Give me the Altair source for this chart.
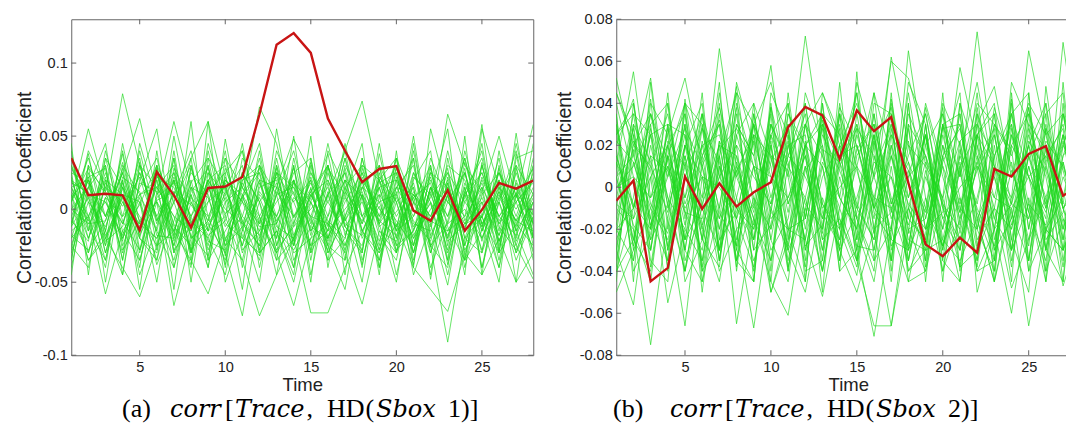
import altair as alt
import pandas as pd

# ---------------- data (green traces in thousandths) ----------------
time_ticks = [5, 10, 15, 20, 25]
yticks_a = [-0.1, -0.05, 0, 0.05, 0.1]
yticks_b = [-0.08, -0.06, -0.04, -0.02, 0, 0.02, 0.04, 0.06, 0.08]

red_a = [0.035, 0.0095, 0.0105, 0.0095, -0.0145, 0.0255, 0.0095, -0.0125, 0.0145, 0.0155,
         0.022, 0.065, 0.1125, 0.1205, 0.107, 0.062, 0.040, 0.0185, 0.0275, 0.0295,
         -0.001, -0.008, 0.013, -0.0148, -0.0005, 0.018, 0.014, 0.0195]
red_b = [-0.0064, 0.0032, -0.0448, -0.0384, 0.0051, -0.0103, 0.0019, -0.0092, -0.0024, 0.0024,
         0.0286, 0.0382, 0.0342, 0.0135, 0.0366, 0.0267, 0.0334, 0.002, -0.0272, -0.0328,
         -0.024, -0.0312, 0.0087, 0.0051, 0.0159, 0.0196, -0.004, 0.001]

green_a = [
    [12,-8,25,-15,3,30,-22,8,-5,18,-30,5,22,-12,0,15,-25,10,-8,28,-14,4,-35,12,-6,20,-10,15],
    [-20,15,-5,32,-18,6,12,-28,20,-3,8,-15,30,-6,14,-22,5,25,-12,-2,18,-26,9,-15,30,-8,11,-4],
    [30,5,-12,20,-35,10,25,-8,-20,12,40,-5,18,-25,8,30,-10,-18,22,5,-30,15,-5,25,-20,8,-12,22],
    [-5,-30,18,2,22,-15,-40,15,8,-25,10,28,-8,12,-30,-5,20,8,-22,15,10,-12,28,-30,5,-18,25,-10],
    [8,22,-25,45,-10,-20,5,30,-15,22,-8,-35,15,5,20,-12,35,-20,2,-30,25,-8,-15,8,40,-22,5,18],
    [-25,10,5,-18,15,35,-12,-25,40,-10,-20,12,-5,28,-15,10,-28,15,30,-15,-5,22,-20,32,-10,12,-30,5],
    [15,-15,35,-8,-28,8,18,-10,5,35,-15,20,-30,-10,32,-20,8,-8,15,-25,40,-18,10,-5,15,-35,20,-15],
    [-12,38,-20,10,5,-35,28,5,-18,-8,25,-28,10,40,-8,-28,15,30,-10,8,-20,12,-28,18,-12,25,-5,30],
    [22,-20,8,-30,30,15,-5,-38,12,25,-40,18,-12,-20,25,5,-15,-30,38,-12,8,-30,18,-25,22,-5,-18,8],
    [-30,5,-35,15,-12,25,-30,20,-28,5,15,-10,28,-35,-12,20,-8,12,-25,35,-18,5,-45,10,-28,8,30,-25],
    [5,28,12,-22,40,-8,10,-15,30,-20,-5,35,-25,8,-5,-35,28,-15,10,-8,-25,35,5,-12,8,-22,12,-30],
    [35,-10,-8,28,-20,-30,35,-20,-8,40,-28,-15,5,20,-25,12,-30,22,-5,15,30,-25,-10,28,-40,15,-8,10],
    [-8,-22,40,-5,10,20,-18,35,-35,-15,5,-22,35,-18,10,-15,45,-5,-30,22,-12,8,25,-20,12,-30,38,-20],
    [18,12,-18,8,-45,-12,22,-5,25,-25,-12,8,-20,30,-35,25,-12,-25,20,-5,15,-40,-8,35,-15,28,-22,5],
    [-15,-5,22,-35,18,12,-25,28,-10,10,30,-40,12,-5,18,-8,-20,35,-15,-22,8,18,-30,5,25,-10,15,-35],
    [25,18,-30,15,-5,-25,5,-30,18,-32,20,25,-35,-20,5,38,-18,10,-28,12,-30,25,15,-28,-5,35,-25,12],
    [-35,30,10,-10,25,-5,-35,12,28,-5,-35,15,20,-30,-20,10,25,-35,8,30,-10,-15,40,-8,18,-18,8,28],
    [10,-35,-15,38,-28,22,15,-18,-32,20,10,-12,-10,25,35,-30,-5,20,-18,-35,22,10,-20,15,-30,5,-35,-5],
    [0,15,30,-20,8,-38,-8,25,10,-38,25,5,-28,-12,12,-25,15,-10,30,5,-38,28,-12,-35,32,-28,18,-18],
    [-18,-28,-8,25,-15,15,30,-35,35,15,-18,-32,25,15,-28,18,-35,28,-8,-18,12,-5,30,20,-15,10,-8,25],
    [28,8,-22,-12,32,-18,-20,10,-22,-28,35,20,-15,-28,-5,30,-12,-28,18,25,-25,15,-22,-10,5,-40,28,-12],
    [-10,40,15,5,-20,28,-28,-12,20,30,-8,-25,40,10,-12,-20,30,8,-40,10,35,-30,5,25,-22,18,-15,35],
    [20,-12,-35,22,12,-28,40,-28,-12,8,-25,30,-5,-25,22,-10,-25,15,5,-28,-15,30,-38,12,35,-12,-28,0],
    [-28,22,28,-28,-8,5,-15,18,35,-22,18,-8,-30,35,-18,28,10,-38,15,20,-8,-22,18,-40,10,25,5,-28],
    [5,55,12,79,30,-8,20,-5,15,-12,8,25,-10,18,5,-20,12,-5,20,-15,10,-8,25,5,-12,15,0,20],
    [-10,20,-5,25,62,10,60,15,-8,20,5,70,45,-5,12,30,-8,20,0,-12,25,5,-18,10,25,-5,15,-10],
    [15,-5,20,10,-15,30,5,35,60,12,-10,20,15,48,25,-5,40,74,20,35,5,-10,65,30,12,50,8,58],
    [-20,-5,-58,-15,-35,5,-66,-20,-10,-30,-73,-5,-30,-66,-20,-10,-30,-65,-15,-30,5,-25,-91,-20,-5,-30,-10,-25],
    [5,-35,-20,-40,-60,-25,-15,-35,-58,-20,-35,-73,-45,-20,-71,-71,-40,-15,-30,-10,-40,-55,-70,-30,-45,-20,-50,-30],
    [-5,20,-30,10,-15,30,-40,5,-20,-45,10,-30,-15,-50,5,-25,-55,10,-35,20,-45,-10,-52,15,-40,5,-25,-48],
    [40,-15,30,-45,20,55,-20,60,-35,48,-12,-50,30,-25,50,-40,20,-30,45,-20,35,-48,22,-15,58,-30,52,-20],
    [-45,30,-50,20,-55,25,-10,-40,60,-30,15,45,-20,50,-30,30,-45,35,-10,-50,20,40,-35,50,-45,30,-20,45],
    [10,-20,15,-10,25,-5,20,-30,5,15,-25,10,-5,20,-15,5,25,-10,15,-20,10,-5,20,-25,15,-10,5,20],
    [-12,8,-25,18,-8,-20,12,3,-15,28,-5,-18,15,-22,10,20,-12,5,-28,15,-5,25,-10,0,-20,12,-8,-15],
    [25,-30,8,-5,35,-25,50,-10,20,-40,25,5,-45,20,-10,45,-5,-50,25,-15,50,-20,10,-35,30,-15,45,-5],
    [-40,15,45,-25,5,-50,20,-30,45,5,-55,30,10,-40,35,-20,10,45,-40,30,-30,10,55,-35,-15,20,-50,30],
    [5,35,-5,25,-30,20,-55,30,-15,-5,45,-20,25,5,-25,-15,35,-5,10,-45,5,30,-25,40,-5,-40,10,-20],
    [30,-5,-40,30,10,-15,35,-50,25,10,-20,-30,55,-10,20,-35,-20,25,-5,35,-35,15,-15,-5,45,-25,30,10],
    [-25,-40,20,-35,45,5,-25,10,-40,35,15,-5,-35,30,-45,10,40,-15,-35,5,15,-45,35,-20,-30,40,-15,-45],
    [15,20,-15,40,-20,-35,10,40,-5,-35,20,30,-10,-40,15,-30,-5,30,20,-25,-15,20,-5,35,-10,5,40,-10],
    [0,-10,5,-20,10,15,-5,-15,20,0,-10,-25,10,15,-5,-10,20,-15,5,10,-20,0,15,-10,-5,25,-15,5],
    [20,10,-20,5,-10,25,-15,15,-25,20,5,-10,25,-20,10,-15,0,15,-10,25,-25,15,5,-10,20,-5,10,-20],
    [-35,25,-15,-45,30,-10,25,-20,30,-50,-15,40,-25,20,-50,40,15,-40,30,-30,45,-25,-40,25,-10,-50,35,40],
    [45,-45,35,15,-40,40,-30,-5,-40,25,40,-30,-15,-45,30,-25,-35,20,-45,40,-40,55,10,-45,55,15,-30,-5],
]

green_b = [
    [18,-25,10,35,-12,-30,22,5,-18,30,-8,15,-35,20,8,-22,40,-10,-28,12,30,-15,5,-20,25,-8,35,-12],
    [-30,12,-18,5,28,10,-35,25,-5,-20,15,40,-12,-28,18,30,-8,12,-35,20,-12,45,-25,8,-15,30,-20,10],
    [25,40,-8,-22,15,-40,10,-15,30,5,-28,20,10,-35,28,-12,-25,35,15,-8,-30,12,28,-35,10,-22,15,25],
    [-8,-15,35,12,-30,22,-10,38,-25,12,30,-20,25,8,-15,-35,20,-5,25,-30,15,-10,-28,20,35,12,-30,-5],
    [40,5,-25,28,-8,15,30,-30,10,-35,20,-8,-20,35,-25,12,5,-30,-10,38,-18,25,10,-12,-35,28,8,-22],
    [-22,30,12,-35,42,-18,5,20,-40,25,-12,30,15,-18,-5,25,-35,28,-20,-12,35,-28,15,30,-8,-18,25,12],
    [10,-35,28,-5,-20,35,-25,-12,22,-8,40,-30,5,20,-35,8,30,-22,38,5,-25,10,-40,25,-12,40,-10,-30],
    [-35,18,-30,22,10,-25,40,-20,-8,38,-25,10,-30,12,30,-20,-12,45,-5,-28,8,-35,30,-8,20,-30,15,38],
    [30,-10,15,-28,20,5,-15,35,-30,-18,25,-35,32,-5,-20,35,-28,-10,25,-20,40,15,-15,-30,28,5,-38,20],
    [-15,25,-38,15,-25,28,12,-35,30,10,-40,22,-15,35,10,-30,15,-25,-30,25,-10,-20,38,10,-25,15,28,-35],
    [5,-28,20,-15,35,-10,-30,15,-12,30,12,-25,40,-20,25,-5,-35,20,10,-35,22,30,-20,-8,38,-25,-12,25],
    [22,12,-15,40,-30,20,25,-5,-35,-12,35,15,-30,28,-30,20,38,-15,-25,30,-5,-35,15,35,-20,22,10,-18],
    [-25,-5,42,-30,12,-35,18,28,10,-30,-15,30,-8,-25,35,-10,-20,30,-38,15,28,-12,-35,20,5,-30,35,-8],
    [35,-30,-10,20,-18,30,-12,-28,40,15,-30,-10,28,-35,15,30,-5,-28,20,-15,-30,35,10,-38,22,8,-25,30],
    [-10,35,25,-8,-40,12,32,-10,-25,38,5,-38,18,12,-28,-30,25,8,-12,35,-22,15,-30,28,-12,-35,20,5],
    [12,-18,-30,30,25,-25,-38,30,15,-25,20,25,-40,10,28,15,-25,-30,30,-25,12,-30,25,-15,30,18,-15,-28],
    [-38,22,8,-38,5,28,-20,10,-20,22,-35,8,20,-30,-12,35,-8,22,-20,10,-38,25,-5,30,-35,12,30,-12],
    [28,-40,-22,15,-25,-8,15,-38,35,-5,28,-28,-18,38,20,-15,35,-35,8,-30,18,-8,35,-25,15,-20,-5,35],
    [0,10,30,-40,20,40,-35,12,-15,-35,10,35,-25,-15,-38,22,-12,15,35,-8,-20,38,-15,12,-28,35,-30,10],
    [-20,-35,15,8,-12,-15,20,-25,25,15,-20,-15,35,25,-8,-25,28,-20,-15,28,30,-25,-10,-20,15,-10,25,-25],
    [52,15,52,-10,20,-5,66,10,-15,25,5,72,15,-10,30,5,-20,65,10,-5,57,20,-10,35,5,-15,69,10],
    [10,55,-5,25,52,10,-20,30,15,58,-8,20,35,-5,45,-10,62,20,-15,30,5,74,10,-5,65,25,-8,40],
    [-30,-56,5,-55,-20,-35,10,-65,-15,-45,-61,-10,-40,5,-30,-71,-20,-45,-5,-40,10,-40,-20,-60,-5,-40,-15,-45],
    [-10,-20,-75,-15,-66,5,-40,-20,-67,-10,-30,-50,-5,-30,-50,-20,-66,-10,-30,-25,-35,-15,-45,-10,-66,-20,-30,-10],
    [5,-25,-40,10,-30,-45,15,-35,-5,-50,-20,-25,-52,-10,-35,-66,-66,-20,-40,-5,-38,-30,-10,-48,-25,-5,-47,-20],
    [45,20,35,5,40,15,38,5,30,50,15,30,45,20,40,5,60,52,20,35,5,40,30,15,40,25,35,10],
    [-40,-10,25,-30,15,-20,-45,8,-25,20,-38,-5,30,-20,-42,15,-10,-35,25,-28,-5,-38,20,-30,-8,-45,12,-22],
    [20,42,-20,30,-5,35,5,48,-10,25,40,-15,30,12,-10,45,15,-15,40,10,-12,30,48,5,38,-10,20,45],
    [-5,28,-25,-8,30,-38,22,-28,35,-15,-5,20,-22,40,-15,5,25,-40,-22,30,-30,20,-35,42,-20,28,-35,15],
    [15,-15,5,20,-25,15,-30,20,5,-8,22,-30,10,-25,20,-10,15,-8,-20,15,-15,8,25,-18,10,-20,12,-25],
    [-45,40,-20,45,-35,-10,50,-40,25,-45,35,20,-50,35,-15,-40,45,-30,30,-45,40,-15,-45,45,-35,20,-45,55],
    [35,-45,50,-20,30,-50,15,45,-45,40,-20,-45,40,-30,50,20,-45,40,-35,45,-40,30,15,-45,45,-40,50,-30],
    [12,-8,-20,15,-5,20,-15,8,25,-12,-20,10,-25,15,20,-10,5,-18,12,-5,22,-20,10,-8,-15,18,-10,5],
    [-18,20,10,-12,25,-25,5,-10,-20,15,8,-25,12,-5,-20,25,-15,8,-25,20,-8,12,-20,25,5,-12,22,-18],
    [45,25,-35,-45,40,30,-30,50,20,-50,-25,45,20,-40,55,-35,-20,50,30,-35,-45,25,40,-25,-50,48,-10,-40],
    [-50,-30,40,25,-45,-25,35,-35,-45,45,25,-40,-35,50,-25,40,35,-45,-40,15,45,-50,-20,35,45,-30,-45,25],
    [5,15,-10,-25,10,35,-30,-5,30,-20,15,5,-15,20,-35,-5,30,12,-10,-28,10,25,-30,-15,20,-5,25,-15],
    [-20,-10,25,30,-40,-5,20,15,-30,35,-40,30,-8,-20,10,45,-30,5,35,-10,-25,-5,30,18,-40,10,-20,30],
    [30,-20,-45,20,35,-40,-25,40,10,-10,30,-45,45,25,-20,-45,10,-40,-30,40,20,-40,-35,50,30,-45,40,-40],
    [0,5,-5,10,-10,5,0,-15,10,5,-5,15,-10,0,10,-5,-10,5,15,-15,0,10,-5,-10,5,15,-10,0],
    [25,35,-15,-35,20,-20,45,-15,-38,20,-30,40,-20,30,-10,-25,42,-5,25,-10,-45,25,35,-30,15,35,45,-35],
    [-40,-25,30,40,-15,45,-35,25,40,-40,45,-15,35,-40,-30,25,-35,40,-45,30,35,-20,-40,40,-40,-20,-30,45],
    [15,-10,35,-5,-40,10,30,-30,-45,30,10,-5,-40,15,45,-20,20,-35,5,-20,15,50,5,-30,35,-30,5,-15],
    [-30,30,-30,15,40,-45,-10,45,30,-25,-45,20,30,-15,-35,30,-40,30,15,-40,-15,35,-45,-5,20,40,-25,20],
]

caption_a = ["(a)", "corr", "[", "Trace", ",", "HD", "(", "Sbox", "1)]"]
caption_b = ["(b)", "corr", "[", "Trace", ",", "HD", "(", "Sbox", "2)]"]

# ---------------- layout / style constants ----------------
caption_italic = [False, True, False, True, False, False, False, True, False]
caption_x_a = [50.75, 98.75, 153.75, 163.75, 235.25, 255.75, 294.25, 304.75, 376.75]
caption_x_b = [-3.25, 53.75, 108.75, 118.75, 190.25, 210.75, 249.25, 259.75, 331.75]

GREEN = "#1fd81f"
RED = "#c81414"
FRAME = "#666666"
TXT = "#222222"
SANS = "Liberation Sans"
H = 336
CAP_Y = 398


def long_df(rows):
    recs = []
    for i, row in enumerate(rows):
        for j, v in enumerate(row):
            recs.append({"t": j + 1, "v": v / 1000.0, "s": i})
    return pd.DataFrame(recs)


def panel(green_rows, red, ydomain, yticks, W, title_x, caption, caption_x):
    xs = alt.Scale(domain=[1, 28], nice=False, zero=False)
    ys = alt.Scale(domain=ydomain, nice=False, zero=False)
    xaxis = alt.Axis(values=time_ticks, title="Time", grid=False, ticks=False, tickSize=0,
                     domain=False, labelPadding=5, labelFont=SANS, labelFontSize=14.5,
                     labelColor=TXT, labelFlush=False, titleFont=SANS, titleFontSize=18.5,
                     titleFontWeight="normal", titleColor=TXT, titlePadding=2)
    yaxis = alt.Axis(values=yticks, title="Correlation Coefficient",
                     labelExpr="toString(datum.value)", grid=False, ticks=False, tickSize=0,
                     domain=False, labelPadding=4, labelFont=SANS, labelFontSize=14.5,
                     labelColor=TXT, labelFlush=False, titleFont=SANS, titleFontSize=19.5,
                     titleFontWeight="normal", titleColor=TXT, titleX=title_x, titleY=H / 2,
                     titleAngle=270, titleAlign="center", titleBaseline="middle")
    X = alt.X("t:Q", scale=xs, axis=xaxis)
    Y = alt.Y("v:Q", scale=ys, axis=yaxis)

    df_g = long_df(green_rows)
    df_r = pd.DataFrame({"t": list(range(1, len(red) + 1)), "v": red})
    xt = pd.DataFrame({"t": time_ticks})
    yt = pd.DataFrame({"v": yticks})
    one = pd.DataFrame({"k": [0]})

    layers = [
        alt.Chart(df_g).mark_line(stroke=GREEN, strokeWidth=0.8, opacity=0.85, clip=True)
        .encode(x=X, y=Y, detail="s:N"),
        alt.Chart(df_r).mark_line(stroke=RED, strokeWidth=2.4, clip=True).encode(x=X, y=Y),
        alt.Chart(xt).mark_rule(color=FRAME, strokeWidth=1)
        .encode(x=X, y=alt.value(H), y2=alt.value(H - 5)),
        alt.Chart(xt).mark_rule(color=FRAME, strokeWidth=1)
        .encode(x=X, y=alt.value(0), y2=alt.value(5)),
        alt.Chart(yt).mark_rule(color=FRAME, strokeWidth=1)
        .encode(y=Y, x=alt.value(0), x2=alt.value(5)),
        alt.Chart(yt).mark_rule(color=FRAME, strokeWidth=1)
        .encode(y=Y, x=alt.value(W), x2=alt.value(W - 5)),
    ]
    for seg, ital, px in zip(caption, caption_italic, caption_x):
        if ital:
            mk = alt.Chart(one).mark_text(text=seg, font="DejaVu Serif", fontStyle="italic",
                                          fontSize=24, align="left", baseline="alphabetic",
                                          color="black")
        else:
            mk = alt.Chart(one).mark_text(text=seg, font="Liberation Serif", fontSize=26,
                                          align="left", baseline="alphabetic", color="black")
        layers.append(mk.encode(x=alt.value(px), y=alt.value(CAP_Y)))
    return alt.layer(*layers).properties(width=W, height=H)


left = panel(green_a, red_a, [-0.1, 0.13], yticks_a, 462, -47, caption_a, caption_x_a)
right = panel(green_b, red_b, [-0.08, 0.08], yticks_b, 464, -52, caption_b, caption_x_b)

chart = (
    alt.hconcat(left, right, spacing=19)
    .properties(autosize=alt.AutoSizeParams(type="none"),
                padding={"left": 63.25, "top": 11.25, "right": 994.75, "bottom": 400.75},
                background="white")
    .configure_view(stroke=FRAME, strokeWidth=1)
)

chart.save("out.html", embed_options={"renderer": "svg", "actions": False})
